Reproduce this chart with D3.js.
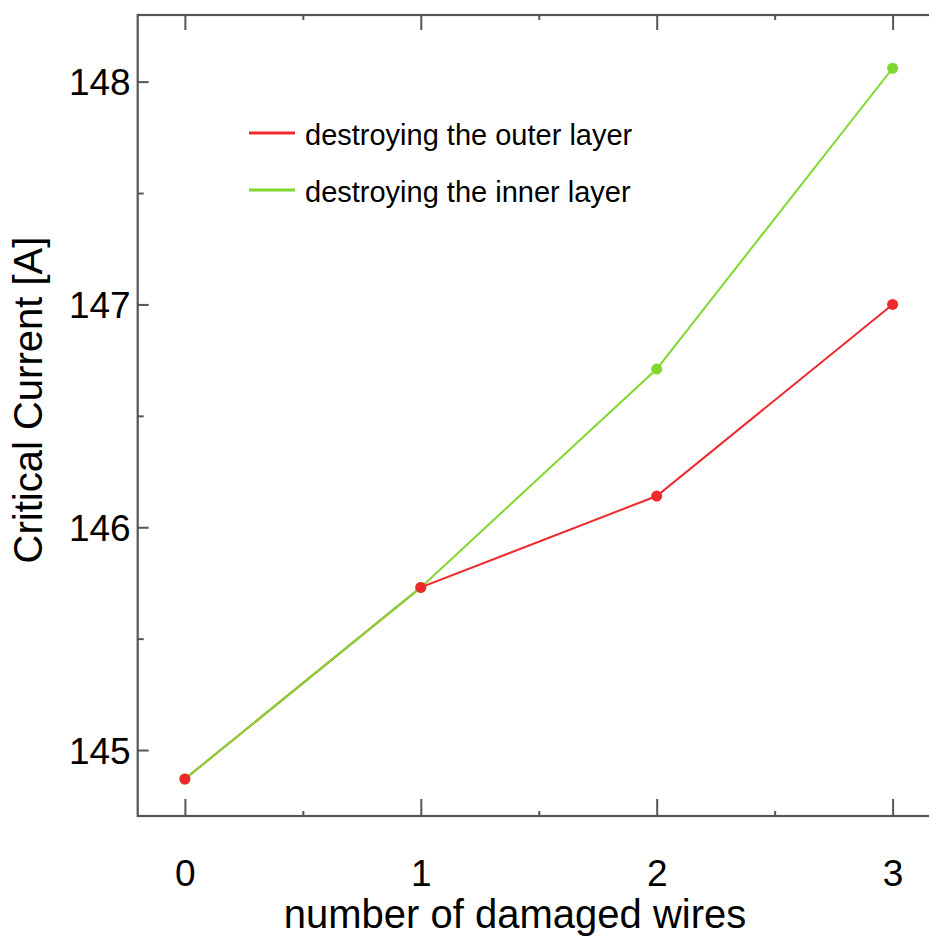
<!DOCTYPE html>
<html>
<head>
<meta charset="utf-8">
<script src="https://cdn.jsdelivr.net/npm/d3@7"></script>
<style>
  html, body { margin: 0; padding: 0; background: #fff; }
  svg { display: block; font-family: "Liberation Sans", Arial, sans-serif; }
</style>
</head>
<body>
<svg id="chart" width="929" height="937"></svg>
<script>
const categories = [0, 1, 2, 3];
const outerLayer = [144.87, 145.73, 146.14, 147.0];
const innerLayer = [144.87, 145.73, 146.71, 148.06];
const seriesNames = ["destroying the outer layer", "destroying the inner layer"];
const xTicks = [0, 1, 2, 3];
const xMinorTicks = [0.5, 1.5, 2.5];
const yTicks = [145, 146, 147, 148];
const yMinorTicks = [145.5, 146.5, 147.5];
const xLabel = "number of damaged wires";
const yLabel = "Critical Current [A]";

(function () {
const svg = d3.select("#chart");
const pL = 137.7, pR = 939.8, pT = 15, pB = 816;
const x = d3.scaleLinear().domain([-0.2, 3.2]).range([pL, pR]);
const y = d3.scaleLinear().domain([144.704, 148.299]).range([pB, pT]);

const axisColor = "#555";
const red = "#ee2a2d", green = "#80d82e";

// Frame
svg.append("rect").attr("x", pL).attr("y", pT).attr("width", pR - pL).attr("height", pB - pT)
  .attr("fill", "none").attr("stroke", axisColor).attr("stroke-width", 2.2);

// Bottom axis (ticks inward)
const gB = svg.append("g").attr("transform", `translate(0,${pB})`)
  .call(d3.axisBottom(x).tickValues(xTicks).tickSizeInner(-17).tickSizeOuter(0).tickPadding(0).tickFormat(d3.format("d")));
gB.select(".domain").remove();
gB.selectAll(".tick line").attr("stroke", axisColor).attr("stroke-width", 2);
gB.selectAll(".tick text").attr("y", 44).attr("font-size", 37).attr("fill", "#000").attr("font-family", "Liberation Sans, Arial, sans-serif");
const gBm = svg.append("g").attr("transform", `translate(0,${pB})`)
  .call(d3.axisBottom(x).tickValues(xMinorTicks).tickSizeInner(-5).tickSizeOuter(0).tickFormat(""));
gBm.select(".domain").remove();
gBm.selectAll(".tick line").attr("stroke", axisColor).attr("stroke-width", 2);

// Top axis
const gT = svg.append("g").attr("transform", `translate(0,${pT})`)
  .call(d3.axisTop(x).tickValues(xTicks).tickSizeInner(-15).tickSizeOuter(0).tickFormat(""));
gT.select(".domain").remove();
gT.selectAll(".tick line").attr("stroke", axisColor).attr("stroke-width", 2);
const gTm = svg.append("g").attr("transform", `translate(0,${pT})`)
  .call(d3.axisTop(x).tickValues(xMinorTicks).tickSizeInner(-5).tickSizeOuter(0).tickFormat(""));
gTm.select(".domain").remove();
gTm.selectAll(".tick line").attr("stroke", axisColor).attr("stroke-width", 2);

// Left axis
const gL = svg.append("g").attr("transform", `translate(${pL},0)`)
  .call(d3.axisLeft(y).tickValues(yTicks).tickSizeInner(-11).tickSizeOuter(0).tickPadding(0).tickFormat(d3.format("d")));
gL.select(".domain").remove();
gL.selectAll(".tick line").attr("stroke", axisColor).attr("stroke-width", 2);
gL.selectAll(".tick text").attr("x", -7).attr("dy", "0.36em").attr("font-size", 37).attr("fill", "#000").attr("font-family", "Liberation Sans, Arial, sans-serif");
const gLm = svg.append("g").attr("transform", `translate(${pL},0)`)
  .call(d3.axisLeft(y).tickValues(yMinorTicks).tickSizeInner(-6).tickSizeOuter(0).tickFormat(""));
gLm.select(".domain").remove();
gLm.selectAll(".tick line").attr("stroke", axisColor).attr("stroke-width", 2);

// Axis labels
svg.append("text").attr("x", 515).attr("y", 928).attr("text-anchor", "middle")
  .attr("font-size", 40).attr("fill", "#000").text(xLabel);
svg.append("text").attr("transform", "translate(42,400) rotate(-90)").attr("text-anchor", "middle")
  .attr("font-size", 40).attr("fill", "#000").text(yLabel);

// Lines
const line = d3.line().x((d, i) => x(categories[i])).y(d => y(d));
svg.append("path").datum(outerLayer).attr("d", line).attr("fill", "none").attr("stroke", red).attr("stroke-width", 2);
svg.append("path").datum(innerLayer).attr("d", line).attr("fill", "none").attr("stroke", green).attr("stroke-width", 2);

// Dots
svg.append("g").selectAll("circle").data(innerLayer).join("circle")
  .attr("cx", (d, i) => x(categories[i])).attr("cy", d => y(d)).attr("r", 5.5).attr("fill", green);
svg.append("g").selectAll("circle").data(outerLayer).join("circle")
  .attr("cx", (d, i) => x(categories[i])).attr("cy", d => y(d)).attr("r", 5.5).attr("fill", red);

// Legend
const legendColors = [red, green];
const legendY = [133, 190];
seriesNames.forEach((name, i) => {
  svg.append("line").attr("x1", 249).attr("x2", 295).attr("y1", legendY[i]).attr("y2", legendY[i])
    .attr("stroke", legendColors[i]).attr("stroke-width", 3);
  svg.append("text").attr("x", 305).attr("y", legendY[i] + 12).attr("font-size", 29).attr("fill", "#000").text(name);
});
})();
</script>
</body>
</html>
